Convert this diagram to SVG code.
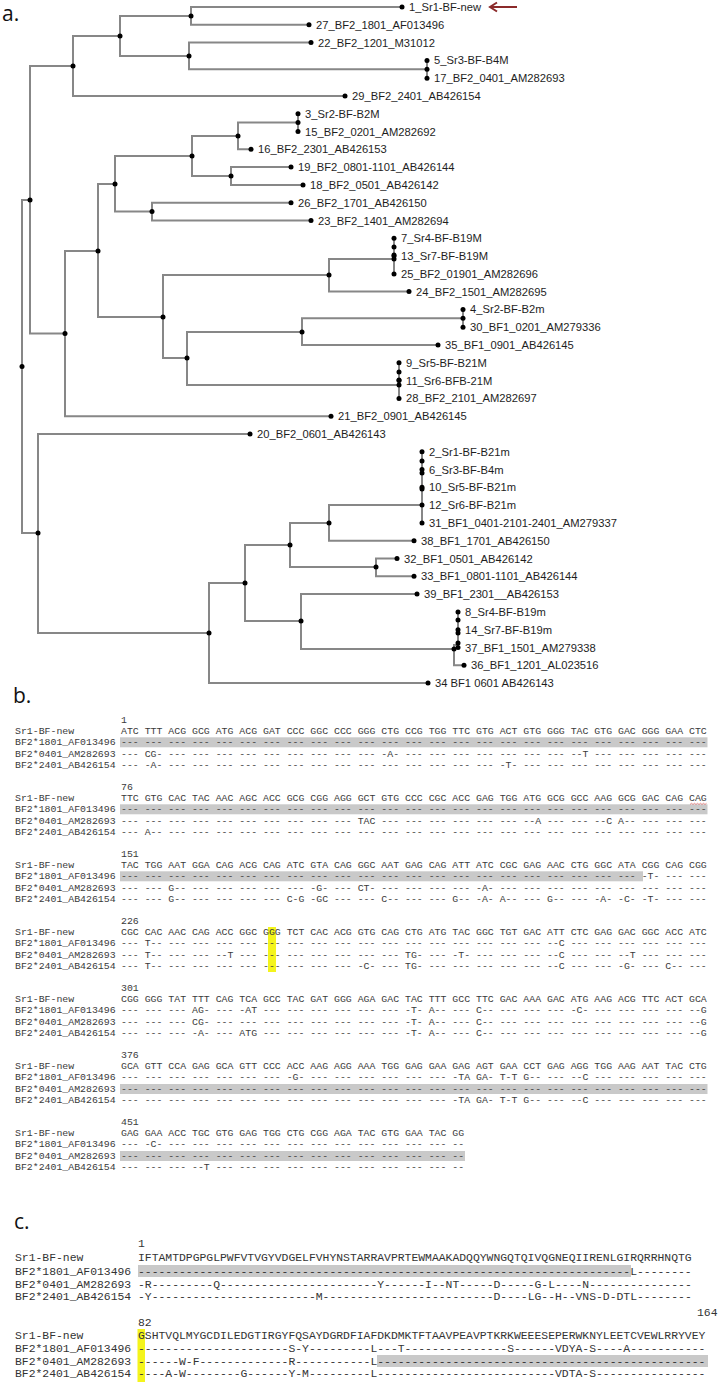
<svg xmlns="http://www.w3.org/2000/svg" width="723" height="1382" viewBox="0 0 723 1382">
<style>
.ln{fill:none;stroke:#878787;stroke-width:2;stroke-linecap:square}
.dt{fill:#000}
.lb{font-family:"Liberation Sans",Arial,sans-serif;font-size:11.2px;fill:#1e1e1e}
.hd{font-family:"Open Sans","Liberation Sans",sans-serif;font-size:21px;fill:#111}
.sb{font-family:"Liberation Mono","Courier New",monospace;font-size:9.87px;fill:#3a3a3a}
.sc{font-family:"Liberation Mono","Courier New",monospace;font-size:11.4px;fill:#333}
.bd{fill:#c9c9c9}
.yl{fill:#f4f41c}
</style>
<rect width="723" height="1382" fill="#fff"/>
<text class="hd" x="2" y="21">a.</text>
<text class="hd" x="13" y="703">b.</text>
<text class="hd" x="14" y="1229">c.</text>

<g id="connectors">
<path class="ln" d="M22,200V533M22,200H30M22,533H38
M30,66V333.6M30,66H73M30,333.6H65
M73,36V96M73,36H120M73,96H345
M120,15.9V56M120,15.9H191M120,56H189
M191,7V24.8M191,7H402M191,24.8H309
M189,42.6V69.3M189,42.6H311M189,69.3H427
M427,60.4V78.2
M65,251V416.2M65,251H98M65,416.2H331
M98,184V317M98,184H115M98,317H163
M115,156V211.6M115,156H192M115,211.6H152
M192,136V176M192,136H238M192,176H231
M238,122.6V149.3M238,122.6H298M238,149.3H251
M298,113.7V131.5
M231,167.1V184.9M231,167.1H291M231,184.9H303
M152,202.7V220.5M152,202.7H291M152,220.5H311
M163,275V358M163,275H329M163,358H187
M329,259V291.6M329,259H394M329,291.6H409
M394,238.3V273.9
M187,332V385M187,332H302M187,385H399
M302,318.3V345M302,318.3H463M302,345H438
M463,309.4V327.2
M399,362.8V398.4
M38,434V633M38,434H250M38,633H209
M209,583V683M209,583H245M209,683H428
M245,545V621M245,545H290M245,621H301
M290,523V567M290,523H329M290,567H376
M329,505.1V540.7M329,505.1H422M329,540.7H414
M422,451.8V522.9
M376,558.5V576.3M376,558.5H397M376,576.3H414
M301,594.1V649M301,594.1H417M301,649H454
M454,645V665.2M454,645H458M454,665.2H464
M458,611.9V647.5"/>
<path d="M517,7H490M497,2.5L490,7L497,11.5" fill="none" stroke="#8b2a2a" stroke-width="2"/>
</g>

<g id="internal-nodes" class="dt">
<circle cx="22" cy="366.5" r="2.5"/><circle cx="30" cy="200" r="2.5"/><circle cx="73" cy="66" r="2.5"/>
<circle cx="120" cy="36" r="2.5"/><circle cx="191" cy="15.9" r="2.5"/><circle cx="189" cy="56" r="2.5"/>
<circle cx="427" cy="69.3" r="2.5"/><circle cx="65" cy="333.6" r="2.5"/><circle cx="98" cy="251" r="2.5"/>
<circle cx="115" cy="184" r="2.5"/><circle cx="192" cy="156" r="2.5"/><circle cx="238" cy="136" r="2.5"/>
<circle cx="298" cy="122.6" r="2.5"/><circle cx="231" cy="176" r="2.5"/><circle cx="152" cy="211.6" r="2.5"/>
<circle cx="163" cy="317" r="2.5"/><circle cx="329" cy="275" r="2.5"/><circle cx="394" cy="247" r="2.5"/>
<circle cx="394" cy="255" r="2.5"/><circle cx="394" cy="259" r="2.5"/><circle cx="187" cy="358" r="2.5"/>
<circle cx="302" cy="332" r="2.5"/><circle cx="463" cy="318.3" r="2.5"/><circle cx="399" cy="372" r="2.5"/>
<circle cx="399" cy="380" r="2.5"/><circle cx="399" cy="385" r="2.5"/><circle cx="38" cy="533" r="2.5"/>
<circle cx="209" cy="633" r="2.5"/><circle cx="245" cy="583" r="2.5"/><circle cx="290" cy="545" r="2.5"/>
<circle cx="329" cy="523" r="2.5"/><circle cx="422" cy="461" r="2.5"/><circle cx="422" cy="473" r="2.5"/>
<circle cx="422" cy="489" r="2.5"/><circle cx="376" cy="567" r="2.5"/><circle cx="301" cy="621" r="2.5"/>
<circle cx="454" cy="649" r="2.5"/><circle cx="458" cy="620" r="2.5"/><circle cx="458" cy="633" r="2.5"/>
<circle cx="458" cy="643" r="2.5"/>
</g>

<g id="leaves">
<g id="n1"><circle class="dt" cx="402" cy="7" r="2.5"/><text class="lb" x="409" y="11">1_Sr1-BF-new</text></g>
<g id="n27"><circle class="dt" cx="309" cy="24.8" r="2.5"/><text class="lb" x="316" y="28.8">27_BF2_1801_AF013496</text></g>
<g id="n22"><circle class="dt" cx="311" cy="42.6" r="2.5"/><text class="lb" x="318" y="46.6">22_BF2_1201_M31012</text></g>
<g id="n5"><circle class="dt" cx="427" cy="60.4" r="2.5"/><text class="lb" x="434" y="64.4">5_Sr3-BF-B4M</text></g>
<g id="n17"><circle class="dt" cx="427" cy="78.2" r="2.5"/><text class="lb" x="434" y="82.2">17_BF2_0401_AM282693</text></g>
<g id="n29"><circle class="dt" cx="345" cy="96" r="2.5"/><text class="lb" x="352" y="100">29_BF2_2401_AB426154</text></g>
<g id="n3"><circle class="dt" cx="298" cy="113.7" r="2.5"/><text class="lb" x="305" y="117.7">3_Sr2-BF-B2M</text></g>
<g id="n15"><circle class="dt" cx="298" cy="131.5" r="2.5"/><text class="lb" x="305" y="135.5">15_BF2_0201_AM282692</text></g>
<g id="n16"><circle class="dt" cx="251" cy="149.3" r="2.5"/><text class="lb" x="258" y="153.3">16_BF2_2301_AB426153</text></g>
<g id="n19"><circle class="dt" cx="291" cy="167.1" r="2.5"/><text class="lb" x="298" y="171.1">19_BF2_0801-1101_AB426144</text></g>
<g id="n18"><circle class="dt" cx="303" cy="184.9" r="2.5"/><text class="lb" x="310" y="188.9">18_BF2_0501_AB426142</text></g>
<g id="n26"><circle class="dt" cx="291" cy="202.7" r="2.5"/><text class="lb" x="298" y="206.7">26_BF2_1701_AB426150</text></g>
<g id="n23"><circle class="dt" cx="311" cy="220.5" r="2.5"/><text class="lb" x="318" y="224.5">23_BF2_1401_AM282694</text></g>
<g id="n7"><circle class="dt" cx="394" cy="238.3" r="2.5"/><text class="lb" x="401" y="242.3">7_Sr4-BF-B19M</text></g>
<g id="n13"><circle class="dt" cx="394" cy="256.1" r="2.5"/><text class="lb" x="401" y="260.1">13_Sr7-BF-B19M</text></g>
<g id="n25"><circle class="dt" cx="394" cy="273.9" r="2.5"/><text class="lb" x="401" y="277.9">25_BF2_01901_AM282696</text></g>
<g id="n24"><circle class="dt" cx="409" cy="291.6" r="2.5"/><text class="lb" x="416" y="295.6">24_BF2_1501_AM282695</text></g>
<g id="n4"><circle class="dt" cx="463" cy="309.4" r="2.5"/><text class="lb" x="470" y="313.4">4_Sr2-BF-B2m</text></g>
<g id="n30"><circle class="dt" cx="463" cy="327.2" r="2.5"/><text class="lb" x="470" y="331.2">30_BF1_0201_AM279336</text></g>
<g id="n35"><circle class="dt" cx="438" cy="345" r="2.5"/><text class="lb" x="445" y="349">35_BF1_0901_AB426145</text></g>
<g id="n9"><circle class="dt" cx="399" cy="362.8" r="2.5"/><text class="lb" x="406" y="366.8">9_Sr5-BF-B21M</text></g>
<g id="n11"><circle class="dt" cx="399" cy="380.6" r="2.5"/><text class="lb" x="406" y="384.6">11_Sr6-BFB-21M</text></g>
<g id="n28"><circle class="dt" cx="399" cy="398.4" r="2.5"/><text class="lb" x="406" y="402.4">28_BF2_2101_AM282697</text></g>
<g id="n21"><circle class="dt" cx="331" cy="416.2" r="2.5"/><text class="lb" x="338" y="420.2">21_BF2_0901_AB426145</text></g>
<g id="n20"><circle class="dt" cx="250" cy="434" r="2.5"/><text class="lb" x="257" y="438">20_BF2_0601_AB426143</text></g>
<g id="n2"><circle class="dt" cx="422" cy="451.8" r="2.5"/><text class="lb" x="429" y="455.8">2_Sr1-BF-B21m</text></g>
<g id="n6"><circle class="dt" cx="422" cy="469.5" r="2.5"/><text class="lb" x="429" y="473.5">6_Sr3-BF-B4m</text></g>
<g id="n10"><circle class="dt" cx="422" cy="487.3" r="2.5"/><text class="lb" x="429" y="491.3">10_Sr5-BF-B21m</text></g>
<g id="n12"><circle class="dt" cx="422" cy="505.1" r="2.5"/><text class="lb" x="429" y="509.1">12_Sr6-BF-B21m</text></g>
<g id="n31"><circle class="dt" cx="422" cy="522.9" r="2.5"/><text class="lb" x="429" y="526.9">31_BF1_0401-2101-2401_AM279337</text></g>
<g id="n38"><circle class="dt" cx="414" cy="540.7" r="2.5"/><text class="lb" x="421" y="544.7">38_BF1_1701_AB426150</text></g>
<g id="n32"><circle class="dt" cx="397" cy="558.5" r="2.5"/><text class="lb" x="404" y="562.5">32_BF1_0501_AB426142</text></g>
<g id="n33"><circle class="dt" cx="414" cy="576.3" r="2.5"/><text class="lb" x="421" y="580.3">33_BF1_0801-1101_AB426144</text></g>
<g id="n39"><circle class="dt" cx="417" cy="594.1" r="2.5"/><text class="lb" x="424" y="598.1">39_BF1_2301__AB426153</text></g>
<g id="n8"><circle class="dt" cx="458" cy="611.9" r="2.5"/><text class="lb" x="465" y="615.9">8_Sr4-BF-B19m</text></g>
<g id="n14"><circle class="dt" cx="458" cy="629.7" r="2.5"/><text class="lb" x="465" y="633.7">14_Sr7-BF-B19m</text></g>
<g id="n37"><circle class="dt" cx="458" cy="647.5" r="2.5"/><text class="lb" x="465" y="651.5">37_BF1_1501_AM279338</text></g>
<g id="n36"><circle class="dt" cx="464" cy="665.2" r="2.5"/><text class="lb" x="471" y="669.2">36_BF1_1201_AL023516</text></g>
<g id="n34"><circle class="dt" cx="428" cy="683" r="2.5"/><text class="lb" x="435" y="687">34 BF1 0601 AB426143</text></g>
</g>

<g id="alignment-b">
<rect class="bd" x="120" y="737.3" width="587.5" height="10"/>
<rect class="bd" x="120" y="804.3" width="587.5" height="10"/>
<rect class="bd" x="120" y="871.3" width="523" height="10"/>
<rect class="bd" x="120" y="1084" width="587.5" height="10"/>
<rect class="bd" x="120" y="1151" width="345" height="10"/>
<rect class="yl" x="268" y="927" width="8" height="45"/>
<path d="M690,804.5l1.5,-1.2l1.5,1.2l1.5,-1.2l1.5,1.2l1.5,-1.2l1.5,1.2l1.5,-1.2l1.5,1.2l1.5,-1.2l1.5,1.2l1.5,-1.2" fill="none" stroke="#e07a7a" stroke-width="0.9"/>

<text class="sb" x="121" y="723">1</text>
<text class="sb" x="15" y="734">Sr1-BF-new</text>
<text class="sb" x="121" y="734">ATC TTT ACG GCG ATG ACG GAT CCC GGC CCC GGG CTG CCG TGG TTC GTG ACT GTG GGG TAC GTG GAC GGG GAA CTC</text>
<text class="sb" x="15" y="745.3">BF2*1801_AF013496</text>
<text class="sb" x="121" y="745.3">--- --- --- --- --- --- --- --- --- --- --- --- --- --- --- --- --- --- --- --- --- --- --- --- ---</text>
<text class="sb" x="15" y="756.7">BF2*0401_AM282693</text>
<text class="sb" x="121" y="756.7">--- CG- --- --- --- --- --- --- --- --- --- -A- --- --- --- --- --- --- --- --T --- --- --- --- ---</text>
<text class="sb" x="15" y="768">BF2*2401_AB426154</text>
<text class="sb" x="121" y="768">--- -A- --- --- --- --- --- --- --- --- --- --- --- --- --- --- -T- --- --- --- --- --- --- --- ---</text>

<text class="sb" x="121" y="790">76</text>
<text class="sb" x="15" y="801">Sr1-BF-new</text>
<text class="sb" x="121" y="801">TTC GTG CAC TAC AAC AGC ACC GCG CGG AGG GCT GTG CCC CGC ACC GAG TGG ATG GCG GCC AAG GCG GAC CAG CAG</text>
<text class="sb" x="15" y="812.3">BF2*1801_AF013496</text>
<text class="sb" x="121" y="812.3">--- --- --- --- --- --- --- --- --- --- --- --- --- --- --- --- --- --- --- --- --- --- --- --- ---</text>
<text class="sb" x="15" y="823.7">BF2*0401_AM282693</text>
<text class="sb" x="121" y="823.7">--- --- --- --- --- --- --- --- --- --- TAC --- --- --- --- --- --- --A --- --- --C A-- --- --- ---</text>
<text class="sb" x="15" y="835">BF2*2401_AB426154</text>
<text class="sb" x="121" y="835">--- A-- --- --- --- --- --- --- --- --- --- --- --- --- --- --- --- --- --- --- --- --- --- --- ---</text>

<text class="sb" x="121" y="857">151</text>
<text class="sb" x="15" y="868">Sr1-BF-new</text>
<text class="sb" x="121" y="868">TAC TGG AAT GGA CAG ACG CAG ATC GTA CAG GGC AAT GAG CAG ATT ATC CGC GAG AAC CTG GGC ATA CGG CAG CGG</text>
<text class="sb" x="15" y="879.3">BF2*1801_AF013496</text>
<text class="sb" x="121" y="879.3">--- --- --- --- --- --- --- --- --- --- --- --- --- --- --- --- --- --- --- --- --- --- -T- --- ---</text>
<text class="sb" x="15" y="890.7">BF2*0401_AM282693</text>
<text class="sb" x="121" y="890.7">--- --- G-- --- --- --- --- --- -G- --- CT- --- --- --- --- -A- --- --- --- --- --- --- --- --- ---</text>
<text class="sb" x="15" y="902">BF2*2401_AB426154</text>
<text class="sb" x="121" y="902">--- --- G-- --- --- --- --- C-G -GC --- --- C-- --- --- G-- -A- A-- --- G-- --- -A- -C- -T- --- ---</text>

<text class="sb" x="121" y="924">226</text>
<text class="sb" x="15" y="935">Sr1-BF-new</text>
<text class="sb" x="121" y="935">CGC CAC AAC CAG ACC GGC GGG TCT CAC ACG GTG CAG CTG ATG TAC GGC TGT GAC ATT CTC GAG GAC GGC ACC ATC</text>
<text class="sb" x="15" y="946.3">BF2*1801_AF013496</text>
<text class="sb" x="121" y="946.3">--- T-- --- --- --- --- --- --- --- --- --- --- --- --- --- --- --- --- --C --- --- --- --- --- ---</text>
<text class="sb" x="15" y="957.7">BF2*0401_AM282693</text>
<text class="sb" x="121" y="957.7">--- T-- --- --- --T --- --- --- --- --- --- --- TG- --- -T- --- --- --- --C --- --- --T --- --- ---</text>
<text class="sb" x="15" y="969">BF2*2401_AB426154</text>
<text class="sb" x="121" y="969">--- T-- --- --- --- --- --- --- --- --- -C- --- TG- --- --- --- --- --- --C --- --- -G- --- C-- ---</text>

<text class="sb" x="121" y="991">301</text>
<text class="sb" x="15" y="1002">Sr1-BF-new</text>
<text class="sb" x="121" y="1002">CGG GGG TAT TTT CAG TCA GCC TAC GAT GGG AGA GAC TAC TTT GCC TTC GAC AAA GAC ATG AAG ACG TTC ACT GCA</text>
<text class="sb" x="15" y="1013.3">BF2*1801_AF013496</text>
<text class="sb" x="121" y="1013.3">--- --- --- AG- --- -AT --- --- --- --- --- --- -T- A-- --- C-- --- --- --- -C- --- --- --- --- --G</text>
<text class="sb" x="15" y="1024.7">BF2*0401_AM282693</text>
<text class="sb" x="121" y="1024.7">--- --- --- CG- --- --- --- --- --- --- --- --- -T- A-- --- C-- --- --- --- --- --- --- --- --- --G</text>
<text class="sb" x="15" y="1036">BF2*2401_AB426154</text>
<text class="sb" x="121" y="1036">--- --- --- -A- --- ATG --- --- --- --- --- --- -T- A-- --- C-- --- --- --- --- --- --- --- --- --G</text>

<text class="sb" x="121" y="1058">376</text>
<text class="sb" x="15" y="1069">Sr1-BF-new</text>
<text class="sb" x="121" y="1069">GCA GTT CCA GAG GCA GTT CCC ACC AAG AGG AAA TGG GAG GAA GAG AGT GAA CCT GAG AGG TGG AAG AAT TAC CTG</text>
<text class="sb" x="15" y="1080.3">BF2*1801_AF013496</text>
<text class="sb" x="121" y="1080.3">--- --- --- --- --- --- --- -G- --- --- --- --- --- --- -TA GA- T-T G-- --- --C --- --- --- --- ---</text>
<text class="sb" x="15" y="1091.7">BF2*0401_AM282693</text>
<text class="sb" x="121" y="1091.7">--- --- --- --- --- --- --- --- --- --- --- --- --- --- --- --- --- --- --- --- --- --- --- --- ---</text>
<text class="sb" x="15" y="1103">BF2*2401_AB426154</text>
<text class="sb" x="121" y="1103">--- --- --- --- --- --- --- --- --- --- --- --- --- --- -TA GA- T-T G-- --- --C --- --- --- --- ---</text>

<text class="sb" x="121" y="1125">451</text>
<text class="sb" x="15" y="1136">Sr1-BF-new</text>
<text class="sb" x="121" y="1136">GAG GAA ACC TGC GTG GAG TGG CTG CGG AGA TAC GTG GAA TAC GG</text>
<text class="sb" x="15" y="1147.3">BF2*1801_AF013496</text>
<text class="sb" x="121" y="1147.3">--- -C- --- --- --- --- --- --- --- --- --- --- --- --- --</text>
<text class="sb" x="15" y="1158.7">BF2*0401_AM282693</text>
<text class="sb" x="121" y="1158.7">--- --- --- --- --- --- --- --- --- --- --- --- --- --- --</text>
<text class="sb" x="15" y="1170">BF2*2401_AB426154</text>
<text class="sb" x="121" y="1170">--- --- --- --T --- --- --- --- --- --- --- --- --- --- --</text>
</g>

<g id="alignment-c">
<rect class="bd" x="138" y="1265" width="493" height="12"/>
<rect class="bd" x="377" y="1355" width="331" height="12"/>
<rect class="yl" x="137.5" y="1329" width="7.5" height="53"/>
<text class="sc" x="138" y="1247">1</text>
<text class="sc" x="15" y="1261">Sr1-BF-new</text>
<text class="sc" x="138" y="1261">IFTAMTDPGPGLPWFVTVGYVDGELFVHYNSTARRAVPRTEWMAAKADQQYWNGQTQIVQGNEQIIRENLGIRQRRHNQTG</text>
<text class="sc" x="15" y="1274.5">BF2*1801_AF013496</text>
<text class="sc" x="138" y="1274.5"><tspan>----------</tspan><tspan>----------</tspan><tspan>----------</tspan><tspan>----------</tspan><tspan>----------</tspan><tspan>----------</tspan><tspan>----------</tspan><tspan>--L--------</tspan></text>
<text class="sc" x="15" y="1287.5">BF2*0401_AM282693</text>
<text class="sc" x="138" y="1287.5"><tspan>-R--------</tspan><tspan>-Q--------</tspan><tspan>----------</tspan><tspan>-----Y----</tspan><tspan>--I--NT---</tspan><tspan>--D-----G-</tspan><tspan>L----N----</tspan><tspan>----------</tspan><tspan>-</tspan></text>
<text class="sc" x="15" y="1300">BF2*2401_AB426154</text>
<text class="sc" x="138" y="1300"><tspan>-Y--------</tspan><tspan>----------</tspan><tspan>------M---</tspan><tspan>----------</tspan><tspan>----------</tspan><tspan>--D----LG-</tspan><tspan>-H--VNS-D-</tspan><tspan>DTL-------</tspan><tspan>-</tspan></text>
<text class="sc" x="697" y="1316">164</text>
<text class="sc" x="138" y="1326">82</text>
<text class="sc" x="15" y="1339">Sr1-BF-new</text>
<text class="sc" x="138" y="1339">GSHTVQLMYGCDILEDGTIRGYFQSAYDGRDFIAFDKDMKTFTAAVPEAVPTKRKWEEESEPERWKNYLEETCVEWLRRYVEY</text>
<text class="sc" x="15" y="1351.5">BF2*1801_AF013496</text>
<text class="sc" x="138" y="1351.5"><tspan>----------</tspan><tspan>----------</tspan><tspan>--S-Y-----</tspan><tspan>----L---T-</tspan><tspan>----------</tspan><tspan>----S-----</tspan><tspan>-VDYA-S---</tspan><tspan>-A--------</tspan><tspan>---</tspan></text>
<text class="sc" x="15" y="1364.5">BF2*0401_AM282693</text>
<text class="sc" x="138" y="1364.5"><tspan>------W-F-</tspan><tspan>----------</tspan><tspan>--R-------</tspan><tspan>----L-----</tspan><tspan>----------</tspan><tspan>----------</tspan><tspan>----------</tspan><tspan>----------</tspan><tspan>---</tspan></text>
<text class="sc" x="15" y="1377">BF2*2401_AB426154</text>
<text class="sc" x="138" y="1377"><tspan>----A-W---</tspan><tspan>-----G----</tspan><tspan>--Y-M-----</tspan><tspan>----L-----</tspan><tspan>----------</tspan><tspan>----------</tspan><tspan>-VDTA-S---</tspan><tspan>----------</tspan><tspan>---</tspan></text>
</g>
</svg>
